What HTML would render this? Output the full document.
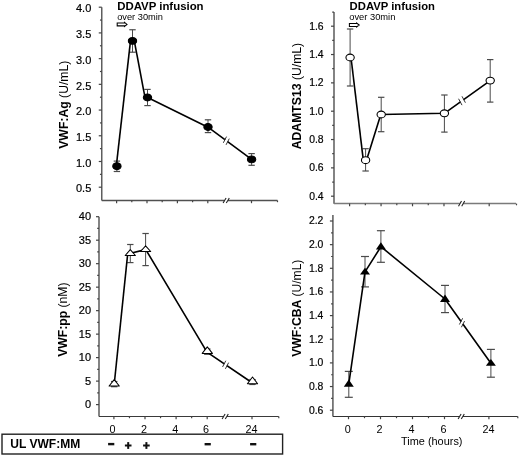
<!DOCTYPE html>
<html><head><meta charset="utf-8"><style>
html,body{margin:0;padding:0;background:#fff;}
svg{display:block;font-family:"Liberation Sans", sans-serif;will-change:transform;}
</style></head><body>
<svg width="520" height="456" viewBox="0 0 520 456">
<rect width="520" height="456" fill="#fff"/>
<line x1="101.75" y1="7.20" x2="101.75" y2="200.50" stroke="#5e5e5e" stroke-width="1.5" />
<line x1="98.75" y1="7.20" x2="101.75" y2="7.20" stroke="#444" stroke-width="1.2" />
<line x1="98.75" y1="32.91" x2="101.75" y2="32.91" stroke="#444" stroke-width="1.2" />
<line x1="98.75" y1="58.63" x2="101.75" y2="58.63" stroke="#444" stroke-width="1.2" />
<line x1="98.75" y1="84.34" x2="101.75" y2="84.34" stroke="#444" stroke-width="1.2" />
<line x1="98.75" y1="110.06" x2="101.75" y2="110.06" stroke="#444" stroke-width="1.2" />
<line x1="98.75" y1="135.77" x2="101.75" y2="135.77" stroke="#444" stroke-width="1.2" />
<line x1="98.75" y1="161.49" x2="101.75" y2="161.49" stroke="#444" stroke-width="1.2" />
<line x1="98.75" y1="187.20" x2="101.75" y2="187.20" stroke="#444" stroke-width="1.2" />
<line x1="99.95" y1="20.06" x2="101.75" y2="20.06" stroke="#444" stroke-width="1.2" />
<line x1="99.95" y1="45.77" x2="101.75" y2="45.77" stroke="#444" stroke-width="1.2" />
<line x1="99.95" y1="71.49" x2="101.75" y2="71.49" stroke="#444" stroke-width="1.2" />
<line x1="99.95" y1="97.20" x2="101.75" y2="97.20" stroke="#444" stroke-width="1.2" />
<line x1="99.95" y1="122.92" x2="101.75" y2="122.92" stroke="#444" stroke-width="1.2" />
<line x1="99.95" y1="148.63" x2="101.75" y2="148.63" stroke="#444" stroke-width="1.2" />
<line x1="99.95" y1="174.35" x2="101.75" y2="174.35" stroke="#444" stroke-width="1.2" />
<text x="91.30" y="12.40" font-size="11" font-weight="normal" text-anchor="end" stroke="#000" stroke-width="0.2">4.0</text>
<text x="91.30" y="38.12" font-size="11" font-weight="normal" text-anchor="end" stroke="#000" stroke-width="0.2">3.5</text>
<text x="91.30" y="63.83" font-size="11" font-weight="normal" text-anchor="end" stroke="#000" stroke-width="0.2">3.0</text>
<text x="91.30" y="89.55" font-size="11" font-weight="normal" text-anchor="end" stroke="#000" stroke-width="0.2">2.5</text>
<text x="91.30" y="115.26" font-size="11" font-weight="normal" text-anchor="end" stroke="#000" stroke-width="0.2">2.0</text>
<text x="91.30" y="140.97" font-size="11" font-weight="normal" text-anchor="end" stroke="#000" stroke-width="0.2">1.5</text>
<text x="91.30" y="166.69" font-size="11" font-weight="normal" text-anchor="end" stroke="#000" stroke-width="0.2">1.0</text>
<text x="91.30" y="192.40" font-size="11" font-weight="normal" text-anchor="end" stroke="#000" stroke-width="0.2">0.5</text>
<line x1="101.75" y1="200.50" x2="224.40" y2="200.50" stroke="#505050" stroke-width="1.3" />
<line x1="228.00" y1="200.50" x2="277.50" y2="200.50" stroke="#505050" stroke-width="1.3" />
<line x1="223.10" y1="203.10" x2="226.10" y2="197.90" stroke="#222" stroke-width="1.1" />
<line x1="226.30" y1="203.10" x2="229.30" y2="197.90" stroke="#222" stroke-width="1.1" />
<line x1="116.60" y1="200.50" x2="116.60" y2="203.20" stroke="#444" stroke-width="1.2" />
<line x1="147.00" y1="200.50" x2="147.00" y2="203.20" stroke="#444" stroke-width="1.2" />
<line x1="177.40" y1="200.50" x2="177.40" y2="203.20" stroke="#444" stroke-width="1.2" />
<line x1="207.80" y1="200.50" x2="207.80" y2="203.20" stroke="#444" stroke-width="1.2" />
<line x1="251.50" y1="200.50" x2="251.50" y2="203.20" stroke="#444" stroke-width="1.2" />
<line x1="131.80" y1="200.50" x2="131.80" y2="202.20" stroke="#444" stroke-width="1.2" />
<line x1="162.20" y1="200.50" x2="162.20" y2="202.20" stroke="#444" stroke-width="1.2" />
<line x1="192.60" y1="200.50" x2="192.60" y2="202.20" stroke="#444" stroke-width="1.2" />
<line x1="277.50" y1="200.50" x2="277.50" y2="202.20" stroke="#444" stroke-width="1.2" />
<line x1="116.90" y1="161.10" x2="116.90" y2="171.50" stroke="#4a4a4a" stroke-width="1.0" />
<line x1="113.70" y1="161.10" x2="120.10" y2="161.10" stroke="#4a4a4a" stroke-width="1.2" />
<line x1="113.70" y1="171.50" x2="120.10" y2="171.50" stroke="#4a4a4a" stroke-width="1.2" />
<line x1="132.50" y1="29.75" x2="132.50" y2="52.20" stroke="#4a4a4a" stroke-width="1.0" />
<line x1="129.30" y1="29.75" x2="135.70" y2="29.75" stroke="#4a4a4a" stroke-width="1.2" />
<line x1="129.30" y1="52.20" x2="135.70" y2="52.20" stroke="#4a4a4a" stroke-width="1.2" />
<line x1="147.50" y1="89.40" x2="147.50" y2="105.60" stroke="#4a4a4a" stroke-width="1.0" />
<line x1="144.30" y1="89.40" x2="150.70" y2="89.40" stroke="#4a4a4a" stroke-width="1.2" />
<line x1="144.30" y1="105.60" x2="150.70" y2="105.60" stroke="#4a4a4a" stroke-width="1.2" />
<line x1="208.00" y1="119.80" x2="208.00" y2="132.60" stroke="#4a4a4a" stroke-width="1.0" />
<line x1="204.80" y1="119.80" x2="211.20" y2="119.80" stroke="#4a4a4a" stroke-width="1.2" />
<line x1="204.80" y1="132.60" x2="211.20" y2="132.60" stroke="#4a4a4a" stroke-width="1.2" />
<line x1="251.60" y1="153.60" x2="251.60" y2="165.30" stroke="#4a4a4a" stroke-width="1.0" />
<line x1="248.40" y1="153.60" x2="254.80" y2="153.60" stroke="#4a4a4a" stroke-width="1.2" />
<line x1="248.40" y1="165.30" x2="254.80" y2="165.30" stroke="#4a4a4a" stroke-width="1.2" />
<polyline points="116.30,166.20 130.50,40.90" fill="none" stroke="#000" stroke-width="1.6" stroke-linejoin="round"/>
<polyline points="134.30,40.90 145.00,97.40" fill="none" stroke="#000" stroke-width="1.6" stroke-linejoin="round"/>
<polyline points="146.60,97.00 208.00,127.20 251.60,159.40" fill="none" stroke="#000" stroke-width="1.6" stroke-linejoin="round"/>
<line x1="225.21" y1="139.91" x2="227.39" y2="141.52" stroke="#fff" stroke-width="3.2" />
<line x1="223.33" y1="142.81" x2="226.53" y2="136.61" stroke="#333" stroke-width="1.0" />
<line x1="226.07" y1="144.83" x2="229.27" y2="138.63" stroke="#333" stroke-width="1.0" />
<ellipse cx="116.90" cy="166.20" rx="4.15" ry="3.4" fill="#000" stroke="#000" stroke-width="1.1"/>
<ellipse cx="132.50" cy="40.90" rx="4.15" ry="3.4" fill="#000" stroke="#000" stroke-width="1.1"/>
<ellipse cx="147.50" cy="97.50" rx="4.15" ry="3.4" fill="#000" stroke="#000" stroke-width="1.1"/>
<ellipse cx="208.00" cy="127.00" rx="4.15" ry="3.4" fill="#000" stroke="#000" stroke-width="1.1"/>
<ellipse cx="251.60" cy="159.40" rx="4.15" ry="3.4" fill="#000" stroke="#000" stroke-width="1.1"/>
<text x="117.20" y="9.90" font-size="11" font-weight="bold" text-anchor="start" textLength="86.4" lengthAdjust="spacingAndGlyphs">DDAVP infusion</text>
<text x="117.20" y="19.60" font-size="9" font-weight="normal" text-anchor="start" textLength="45.8" lengthAdjust="spacingAndGlyphs">over 30min</text>
<path d="M117.20,22.95 H124.50 V22.40 L127.00,24.40 L124.50,26.40 V25.85 H117.20 Z" fill="#fff" stroke="#000" stroke-width="1.05" stroke-linejoin="miter"/>
<text transform="translate(67.50,104.70) rotate(-90)" x="0" y="0" font-size="12" text-anchor="middle" textLength="88.2" lengthAdjust="spacingAndGlyphs"><tspan font-weight="bold">VWF:Ag</tspan><tspan font-weight="normal"> (U/mL)</tspan></text>
<line x1="99.00" y1="216.70" x2="99.00" y2="416.50" stroke="#6e6e6e" stroke-width="1.7" />
<line x1="96.00" y1="216.70" x2="99.00" y2="216.70" stroke="#444" stroke-width="1.2" />
<line x1="96.00" y1="240.19" x2="99.00" y2="240.19" stroke="#444" stroke-width="1.2" />
<line x1="96.00" y1="263.67" x2="99.00" y2="263.67" stroke="#444" stroke-width="1.2" />
<line x1="96.00" y1="287.16" x2="99.00" y2="287.16" stroke="#444" stroke-width="1.2" />
<line x1="96.00" y1="310.65" x2="99.00" y2="310.65" stroke="#444" stroke-width="1.2" />
<line x1="96.00" y1="334.14" x2="99.00" y2="334.14" stroke="#444" stroke-width="1.2" />
<line x1="96.00" y1="357.62" x2="99.00" y2="357.62" stroke="#444" stroke-width="1.2" />
<line x1="96.00" y1="381.11" x2="99.00" y2="381.11" stroke="#444" stroke-width="1.2" />
<line x1="96.00" y1="404.60" x2="99.00" y2="404.60" stroke="#444" stroke-width="1.2" />
<line x1="97.20" y1="228.44" x2="99.00" y2="228.44" stroke="#444" stroke-width="1.2" />
<line x1="97.20" y1="251.93" x2="99.00" y2="251.93" stroke="#444" stroke-width="1.2" />
<line x1="97.20" y1="275.42" x2="99.00" y2="275.42" stroke="#444" stroke-width="1.2" />
<line x1="97.20" y1="298.91" x2="99.00" y2="298.91" stroke="#444" stroke-width="1.2" />
<line x1="97.20" y1="322.39" x2="99.00" y2="322.39" stroke="#444" stroke-width="1.2" />
<line x1="97.20" y1="345.88" x2="99.00" y2="345.88" stroke="#444" stroke-width="1.2" />
<line x1="97.20" y1="369.37" x2="99.00" y2="369.37" stroke="#444" stroke-width="1.2" />
<line x1="97.20" y1="392.86" x2="99.00" y2="392.86" stroke="#444" stroke-width="1.2" />
<text x="91.10" y="220.40" font-size="11" font-weight="normal" text-anchor="end" stroke="#000" stroke-width="0.2">40</text>
<text x="91.10" y="243.89" font-size="11" font-weight="normal" text-anchor="end" stroke="#000" stroke-width="0.2">35</text>
<text x="91.10" y="267.37" font-size="11" font-weight="normal" text-anchor="end" stroke="#000" stroke-width="0.2">30</text>
<text x="91.10" y="290.86" font-size="11" font-weight="normal" text-anchor="end" stroke="#000" stroke-width="0.2">25</text>
<text x="91.10" y="314.35" font-size="11" font-weight="normal" text-anchor="end" stroke="#000" stroke-width="0.2">20</text>
<text x="91.10" y="337.84" font-size="11" font-weight="normal" text-anchor="end" stroke="#000" stroke-width="0.2">15</text>
<text x="91.10" y="361.32" font-size="11" font-weight="normal" text-anchor="end" stroke="#000" stroke-width="0.2">10</text>
<text x="91.10" y="384.81" font-size="11" font-weight="normal" text-anchor="end" stroke="#000" stroke-width="0.2">5</text>
<text x="91.10" y="408.30" font-size="11" font-weight="normal" text-anchor="end" stroke="#000" stroke-width="0.2">0</text>
<line x1="99.00" y1="416.50" x2="223.40" y2="416.50" stroke="#3a3a3a" stroke-width="1.2" />
<line x1="227.00" y1="416.50" x2="278.80" y2="416.50" stroke="#3a3a3a" stroke-width="1.2" />
<line x1="222.10" y1="419.10" x2="225.10" y2="413.90" stroke="#222" stroke-width="1.1" />
<line x1="225.30" y1="419.10" x2="228.30" y2="413.90" stroke="#222" stroke-width="1.1" />
<line x1="113.90" y1="416.50" x2="113.90" y2="419.20" stroke="#444" stroke-width="1.2" />
<line x1="145.00" y1="416.50" x2="145.00" y2="419.20" stroke="#444" stroke-width="1.2" />
<line x1="176.10" y1="416.50" x2="176.10" y2="419.20" stroke="#444" stroke-width="1.2" />
<line x1="207.20" y1="416.50" x2="207.20" y2="419.20" stroke="#444" stroke-width="1.2" />
<line x1="252.00" y1="416.50" x2="252.00" y2="419.20" stroke="#444" stroke-width="1.2" />
<line x1="129.45" y1="416.50" x2="129.45" y2="418.20" stroke="#444" stroke-width="1.2" />
<line x1="160.55" y1="416.50" x2="160.55" y2="418.20" stroke="#444" stroke-width="1.2" />
<line x1="191.65" y1="416.50" x2="191.65" y2="418.20" stroke="#444" stroke-width="1.2" />
<line x1="278.80" y1="416.50" x2="278.80" y2="418.20" stroke="#444" stroke-width="1.2" />
<text x="112.50" y="433.00" font-size="10.8" font-weight="normal" text-anchor="middle" >0</text>
<text x="143.90" y="433.00" font-size="10.8" font-weight="normal" text-anchor="middle" >2</text>
<text x="175.20" y="433.00" font-size="10.8" font-weight="normal" text-anchor="middle" >4</text>
<text x="205.90" y="433.00" font-size="10.8" font-weight="normal" text-anchor="middle" >6</text>
<text x="251.60" y="433.00" font-size="10.8" font-weight="normal" text-anchor="middle" >24</text>
<line x1="114.20" y1="381.50" x2="114.20" y2="386.70" stroke="#4a4a4a" stroke-width="1.0" />
<line x1="111.00" y1="381.50" x2="117.40" y2="381.50" stroke="#4a4a4a" stroke-width="1.2" />
<line x1="111.00" y1="386.70" x2="117.40" y2="386.70" stroke="#4a4a4a" stroke-width="1.2" />
<line x1="130.30" y1="244.50" x2="130.30" y2="262.60" stroke="#4a4a4a" stroke-width="1.0" />
<line x1="127.10" y1="244.50" x2="133.50" y2="244.50" stroke="#4a4a4a" stroke-width="1.2" />
<line x1="127.10" y1="262.60" x2="133.50" y2="262.60" stroke="#4a4a4a" stroke-width="1.2" />
<line x1="145.60" y1="233.50" x2="145.60" y2="265.60" stroke="#4a4a4a" stroke-width="1.0" />
<line x1="142.40" y1="233.50" x2="148.80" y2="233.50" stroke="#4a4a4a" stroke-width="1.2" />
<line x1="142.40" y1="265.60" x2="148.80" y2="265.60" stroke="#4a4a4a" stroke-width="1.2" />
<line x1="207.30" y1="349.00" x2="207.30" y2="354.30" stroke="#4a4a4a" stroke-width="1.0" />
<line x1="204.10" y1="349.00" x2="210.50" y2="349.00" stroke="#4a4a4a" stroke-width="1.2" />
<line x1="204.10" y1="354.30" x2="210.50" y2="354.30" stroke="#4a4a4a" stroke-width="1.2" />
<line x1="252.50" y1="379.50" x2="252.50" y2="384.50" stroke="#4a4a4a" stroke-width="1.0" />
<line x1="249.30" y1="379.50" x2="255.70" y2="379.50" stroke="#4a4a4a" stroke-width="1.2" />
<line x1="249.30" y1="384.50" x2="255.70" y2="384.50" stroke="#4a4a4a" stroke-width="1.2" />
<polyline points="114.30,383.50 127.80,252.80" fill="none" stroke="#000" stroke-width="1.6" stroke-linejoin="round"/>
<polyline points="130.50,253.20 145.50,249.60" fill="none" stroke="#000" stroke-width="1.6" stroke-linejoin="round"/>
<polyline points="145.80,249.60 207.00,352.20 252.50,383.00" fill="none" stroke="#000" stroke-width="1.6" stroke-linejoin="round"/>
<line x1="224.47" y1="364.03" x2="226.73" y2="365.55" stroke="#fff" stroke-width="3.2" />
<line x1="222.59" y1="366.94" x2="225.79" y2="360.74" stroke="#333" stroke-width="1.0" />
<line x1="225.41" y1="368.84" x2="228.61" y2="362.64" stroke="#333" stroke-width="1.0" />
<polygon points="114.20,379.70 109.10,386.00 119.30,386.00" fill="#fff" stroke="#000" stroke-width="1.05" stroke-linejoin="round"/>
<polygon points="130.30,249.70 125.20,255.50 135.40,255.50" fill="#fff" stroke="#000" stroke-width="1.05" stroke-linejoin="round"/>
<polygon points="145.60,245.90 140.50,251.50 150.70,251.50" fill="#fff" stroke="#000" stroke-width="1.05" stroke-linejoin="round"/>
<polygon points="207.30,346.90 202.20,353.40 212.40,353.40" fill="#fff" stroke="#000" stroke-width="1.05" stroke-linejoin="round"/>
<polygon points="252.50,377.00 247.40,383.70 257.60,383.70" fill="#fff" stroke="#000" stroke-width="1.05" stroke-linejoin="round"/>
<text transform="translate(66.80,319.65) rotate(-90)" x="0" y="0" font-size="12" text-anchor="middle" textLength="74.3" lengthAdjust="spacingAndGlyphs"><tspan font-weight="bold">VWF:pp</tspan><tspan font-weight="normal"> (nM)</tspan></text>
<line x1="334.00" y1="12.03" x2="334.00" y2="203.70" stroke="#6e6e6e" stroke-width="1.7" />
<line x1="331.00" y1="26.20" x2="334.00" y2="26.20" stroke="#444" stroke-width="1.2" />
<line x1="331.00" y1="54.53" x2="334.00" y2="54.53" stroke="#444" stroke-width="1.2" />
<line x1="331.00" y1="82.87" x2="334.00" y2="82.87" stroke="#444" stroke-width="1.2" />
<line x1="331.00" y1="111.20" x2="334.00" y2="111.20" stroke="#444" stroke-width="1.2" />
<line x1="331.00" y1="139.54" x2="334.00" y2="139.54" stroke="#444" stroke-width="1.2" />
<line x1="331.00" y1="167.87" x2="334.00" y2="167.87" stroke="#444" stroke-width="1.2" />
<line x1="331.00" y1="196.20" x2="334.00" y2="196.20" stroke="#444" stroke-width="1.2" />
<line x1="332.20" y1="12.03" x2="334.00" y2="12.03" stroke="#444" stroke-width="1.2" />
<line x1="332.20" y1="40.37" x2="334.00" y2="40.37" stroke="#444" stroke-width="1.2" />
<line x1="332.20" y1="68.70" x2="334.00" y2="68.70" stroke="#444" stroke-width="1.2" />
<line x1="332.20" y1="97.03" x2="334.00" y2="97.03" stroke="#444" stroke-width="1.2" />
<line x1="332.20" y1="125.37" x2="334.00" y2="125.37" stroke="#444" stroke-width="1.2" />
<line x1="332.20" y1="153.70" x2="334.00" y2="153.70" stroke="#444" stroke-width="1.2" />
<line x1="332.20" y1="182.04" x2="334.00" y2="182.04" stroke="#444" stroke-width="1.2" />
<text x="323.60" y="29.50" font-size="10.4" font-weight="normal" text-anchor="end" stroke="#000" stroke-width="0.2">1.6</text>
<text x="323.60" y="57.83" font-size="10.4" font-weight="normal" text-anchor="end" stroke="#000" stroke-width="0.2">1.4</text>
<text x="323.60" y="86.17" font-size="10.4" font-weight="normal" text-anchor="end" stroke="#000" stroke-width="0.2">1.2</text>
<text x="323.60" y="114.50" font-size="10.4" font-weight="normal" text-anchor="end" stroke="#000" stroke-width="0.2">1.0</text>
<text x="323.60" y="142.84" font-size="10.4" font-weight="normal" text-anchor="end" stroke="#000" stroke-width="0.2">0.8</text>
<text x="323.60" y="171.17" font-size="10.4" font-weight="normal" text-anchor="end" stroke="#000" stroke-width="0.2">0.6</text>
<text x="323.60" y="199.50" font-size="10.4" font-weight="normal" text-anchor="end" stroke="#000" stroke-width="0.2">0.4</text>
<line x1="334.00" y1="203.60" x2="459.80" y2="203.60" stroke="#7a7a7a" stroke-width="1.5" />
<line x1="463.40" y1="203.60" x2="516.00" y2="203.60" stroke="#7a7a7a" stroke-width="1.5" />
<line x1="458.50" y1="206.20" x2="461.50" y2="201.00" stroke="#222" stroke-width="1.1" />
<line x1="461.70" y1="206.20" x2="464.70" y2="201.00" stroke="#222" stroke-width="1.1" />
<line x1="349.60" y1="203.60" x2="349.60" y2="206.30" stroke="#444" stroke-width="1.2" />
<line x1="381.06" y1="203.60" x2="381.06" y2="206.30" stroke="#444" stroke-width="1.2" />
<line x1="412.52" y1="203.60" x2="412.52" y2="206.30" stroke="#444" stroke-width="1.2" />
<line x1="443.98" y1="203.60" x2="443.98" y2="206.30" stroke="#444" stroke-width="1.2" />
<line x1="489.20" y1="203.60" x2="489.20" y2="206.30" stroke="#444" stroke-width="1.2" />
<line x1="365.33" y1="203.60" x2="365.33" y2="205.30" stroke="#444" stroke-width="1.2" />
<line x1="396.79" y1="203.60" x2="396.79" y2="205.30" stroke="#444" stroke-width="1.2" />
<line x1="428.25" y1="203.60" x2="428.25" y2="205.30" stroke="#444" stroke-width="1.2" />
<line x1="516.50" y1="203.60" x2="516.50" y2="205.30" stroke="#444" stroke-width="1.2" />
<line x1="350.10" y1="29.00" x2="350.10" y2="86.00" stroke="#4a4a4a" stroke-width="1.0" />
<line x1="346.90" y1="29.00" x2="353.30" y2="29.00" stroke="#4a4a4a" stroke-width="1.2" />
<line x1="346.90" y1="86.00" x2="353.30" y2="86.00" stroke="#4a4a4a" stroke-width="1.2" />
<line x1="365.60" y1="148.70" x2="365.60" y2="171.00" stroke="#4a4a4a" stroke-width="1.0" />
<line x1="362.40" y1="148.70" x2="368.80" y2="148.70" stroke="#4a4a4a" stroke-width="1.2" />
<line x1="362.40" y1="171.00" x2="368.80" y2="171.00" stroke="#4a4a4a" stroke-width="1.2" />
<line x1="381.20" y1="97.30" x2="381.20" y2="131.70" stroke="#4a4a4a" stroke-width="1.0" />
<line x1="378.00" y1="97.30" x2="384.40" y2="97.30" stroke="#4a4a4a" stroke-width="1.2" />
<line x1="378.00" y1="131.70" x2="384.40" y2="131.70" stroke="#4a4a4a" stroke-width="1.2" />
<line x1="444.40" y1="95.00" x2="444.40" y2="132.10" stroke="#4a4a4a" stroke-width="1.0" />
<line x1="441.20" y1="95.00" x2="447.60" y2="95.00" stroke="#4a4a4a" stroke-width="1.2" />
<line x1="441.20" y1="132.10" x2="447.60" y2="132.10" stroke="#4a4a4a" stroke-width="1.2" />
<line x1="490.20" y1="59.60" x2="490.20" y2="102.10" stroke="#4a4a4a" stroke-width="1.0" />
<line x1="487.00" y1="59.60" x2="493.40" y2="59.60" stroke="#4a4a4a" stroke-width="1.2" />
<line x1="487.00" y1="102.10" x2="493.40" y2="102.10" stroke="#4a4a4a" stroke-width="1.2" />
<polyline points="351.00,57.50 363.30,160.20" fill="none" stroke="#000" stroke-width="1.6" stroke-linejoin="round"/>
<polyline points="366.50,160.20 380.80,114.50 381.20,114.50 444.40,113.30 490.20,80.60" fill="none" stroke="#000" stroke-width="1.6" stroke-linejoin="round"/>
<line x1="460.63" y1="101.71" x2="463.37" y2="99.76" stroke="#fff" stroke-width="3.2" />
<line x1="461.99" y1="105.15" x2="458.59" y2="98.75" stroke="#333" stroke-width="1.0" />
<line x1="465.41" y1="102.71" x2="462.01" y2="96.31" stroke="#333" stroke-width="1.0" />
<ellipse cx="350.10" cy="57.50" rx="4.15" ry="3.4" fill="#fff" stroke="#000" stroke-width="1.1"/>
<ellipse cx="365.60" cy="160.20" rx="4.15" ry="3.4" fill="#fff" stroke="#000" stroke-width="1.1"/>
<ellipse cx="381.20" cy="114.50" rx="4.15" ry="3.4" fill="#fff" stroke="#000" stroke-width="1.1"/>
<ellipse cx="444.40" cy="113.30" rx="4.15" ry="3.4" fill="#fff" stroke="#000" stroke-width="1.1"/>
<ellipse cx="490.20" cy="80.60" rx="4.15" ry="3.4" fill="#fff" stroke="#000" stroke-width="1.1"/>
<text x="349.60" y="10.20" font-size="11" font-weight="bold" text-anchor="start" textLength="85.4" lengthAdjust="spacingAndGlyphs">DDAVP infusion</text>
<text x="349.20" y="19.90" font-size="9" font-weight="normal" text-anchor="start" textLength="46.2" lengthAdjust="spacingAndGlyphs">over 30min</text>
<path d="M349.40,23.55 H356.70 V23.00 L359.20,25.00 L356.70,27.00 V26.45 H349.40 Z" fill="#fff" stroke="#000" stroke-width="1.05" stroke-linejoin="miter"/>
<text transform="translate(301.00,96.05) rotate(-90)" x="0" y="0" font-size="12" text-anchor="middle" textLength="106.5" lengthAdjust="spacingAndGlyphs"><tspan font-weight="bold">ADAMTS13</tspan><tspan font-weight="normal"> (U/mL)</tspan></text>
<line x1="332.90" y1="214.90" x2="332.90" y2="416.50" stroke="#6e6e6e" stroke-width="1.7" />
<line x1="329.90" y1="221.00" x2="332.90" y2="221.00" stroke="#444" stroke-width="1.2" />
<line x1="329.90" y1="244.65" x2="332.90" y2="244.65" stroke="#444" stroke-width="1.2" />
<line x1="329.90" y1="268.30" x2="332.90" y2="268.30" stroke="#444" stroke-width="1.2" />
<line x1="329.90" y1="291.95" x2="332.90" y2="291.95" stroke="#444" stroke-width="1.2" />
<line x1="329.90" y1="315.60" x2="332.90" y2="315.60" stroke="#444" stroke-width="1.2" />
<line x1="329.90" y1="339.25" x2="332.90" y2="339.25" stroke="#444" stroke-width="1.2" />
<line x1="329.90" y1="362.90" x2="332.90" y2="362.90" stroke="#444" stroke-width="1.2" />
<line x1="329.90" y1="386.55" x2="332.90" y2="386.55" stroke="#444" stroke-width="1.2" />
<line x1="329.90" y1="410.20" x2="332.90" y2="410.20" stroke="#444" stroke-width="1.2" />
<line x1="331.10" y1="232.83" x2="332.90" y2="232.83" stroke="#444" stroke-width="1.2" />
<line x1="331.10" y1="256.48" x2="332.90" y2="256.48" stroke="#444" stroke-width="1.2" />
<line x1="331.10" y1="280.12" x2="332.90" y2="280.12" stroke="#444" stroke-width="1.2" />
<line x1="331.10" y1="303.78" x2="332.90" y2="303.78" stroke="#444" stroke-width="1.2" />
<line x1="331.10" y1="327.43" x2="332.90" y2="327.43" stroke="#444" stroke-width="1.2" />
<line x1="331.10" y1="351.08" x2="332.90" y2="351.08" stroke="#444" stroke-width="1.2" />
<line x1="331.10" y1="374.73" x2="332.90" y2="374.73" stroke="#444" stroke-width="1.2" />
<line x1="331.10" y1="398.38" x2="332.90" y2="398.38" stroke="#444" stroke-width="1.2" />
<text x="323.40" y="224.30" font-size="10.4" font-weight="normal" text-anchor="end" stroke="#000" stroke-width="0.2">2.2</text>
<text x="323.40" y="247.95" font-size="10.4" font-weight="normal" text-anchor="end" stroke="#000" stroke-width="0.2">2.0</text>
<text x="323.40" y="271.60" font-size="10.4" font-weight="normal" text-anchor="end" stroke="#000" stroke-width="0.2">1.8</text>
<text x="323.40" y="295.25" font-size="10.4" font-weight="normal" text-anchor="end" stroke="#000" stroke-width="0.2">1.6</text>
<text x="323.40" y="318.90" font-size="10.4" font-weight="normal" text-anchor="end" stroke="#000" stroke-width="0.2">1.4</text>
<text x="323.40" y="342.55" font-size="10.4" font-weight="normal" text-anchor="end" stroke="#000" stroke-width="0.2">1.2</text>
<text x="323.40" y="366.20" font-size="10.4" font-weight="normal" text-anchor="end" stroke="#000" stroke-width="0.2">1.0</text>
<text x="323.40" y="389.85" font-size="10.4" font-weight="normal" text-anchor="end" stroke="#000" stroke-width="0.2">0.8</text>
<text x="323.40" y="413.50" font-size="10.4" font-weight="normal" text-anchor="end" stroke="#000" stroke-width="0.2">0.6</text>
<line x1="332.90" y1="416.50" x2="459.40" y2="416.50" stroke="#333" stroke-width="1.2" />
<line x1="463.00" y1="416.50" x2="517.80" y2="416.50" stroke="#333" stroke-width="1.2" />
<line x1="458.10" y1="419.10" x2="461.10" y2="413.90" stroke="#222" stroke-width="1.1" />
<line x1="461.30" y1="419.10" x2="464.30" y2="413.90" stroke="#222" stroke-width="1.1" />
<line x1="348.50" y1="416.50" x2="348.50" y2="419.20" stroke="#444" stroke-width="1.2" />
<line x1="380.50" y1="416.50" x2="380.50" y2="419.20" stroke="#444" stroke-width="1.2" />
<line x1="412.50" y1="416.50" x2="412.50" y2="419.20" stroke="#444" stroke-width="1.2" />
<line x1="444.50" y1="416.50" x2="444.50" y2="419.20" stroke="#444" stroke-width="1.2" />
<line x1="488.90" y1="416.50" x2="488.90" y2="419.20" stroke="#444" stroke-width="1.2" />
<line x1="364.50" y1="416.50" x2="364.50" y2="418.20" stroke="#444" stroke-width="1.2" />
<line x1="396.50" y1="416.50" x2="396.50" y2="418.20" stroke="#444" stroke-width="1.2" />
<line x1="428.50" y1="416.50" x2="428.50" y2="418.20" stroke="#444" stroke-width="1.2" />
<line x1="517.80" y1="416.50" x2="517.80" y2="418.20" stroke="#444" stroke-width="1.2" />
<text x="347.80" y="433.00" font-size="10.8" font-weight="normal" text-anchor="middle" >0</text>
<text x="379.40" y="433.00" font-size="10.8" font-weight="normal" text-anchor="middle" >2</text>
<text x="411.50" y="433.00" font-size="10.8" font-weight="normal" text-anchor="middle" >4</text>
<text x="443.60" y="433.00" font-size="10.8" font-weight="normal" text-anchor="middle" >6</text>
<text x="488.40" y="433.00" font-size="10.8" font-weight="normal" text-anchor="middle" >24</text>
<text x="401.00" y="445.00" font-size="10.5" font-weight="normal" text-anchor="start" textLength="61.5" lengthAdjust="spacingAndGlyphs">Time (hours)</text>
<line x1="348.80" y1="371.40" x2="348.80" y2="397.30" stroke="#4a4a4a" stroke-width="1.0" />
<line x1="344.80" y1="371.40" x2="352.80" y2="371.40" stroke="#4a4a4a" stroke-width="1.2" />
<line x1="344.80" y1="397.30" x2="352.80" y2="397.30" stroke="#4a4a4a" stroke-width="1.2" />
<line x1="365.00" y1="256.50" x2="365.00" y2="286.90" stroke="#4a4a4a" stroke-width="1.0" />
<line x1="361.00" y1="256.50" x2="369.00" y2="256.50" stroke="#4a4a4a" stroke-width="1.2" />
<line x1="361.00" y1="286.90" x2="369.00" y2="286.90" stroke="#4a4a4a" stroke-width="1.2" />
<line x1="380.90" y1="230.70" x2="380.90" y2="262.30" stroke="#4a4a4a" stroke-width="1.0" />
<line x1="376.90" y1="230.70" x2="384.90" y2="230.70" stroke="#4a4a4a" stroke-width="1.2" />
<line x1="376.90" y1="262.30" x2="384.90" y2="262.30" stroke="#4a4a4a" stroke-width="1.2" />
<line x1="445.00" y1="285.40" x2="445.00" y2="312.60" stroke="#4a4a4a" stroke-width="1.0" />
<line x1="441.00" y1="285.40" x2="449.00" y2="285.40" stroke="#4a4a4a" stroke-width="1.2" />
<line x1="441.00" y1="312.60" x2="449.00" y2="312.60" stroke="#4a4a4a" stroke-width="1.2" />
<line x1="490.90" y1="349.40" x2="490.90" y2="377.20" stroke="#4a4a4a" stroke-width="1.0" />
<line x1="486.90" y1="349.40" x2="494.90" y2="349.40" stroke="#4a4a4a" stroke-width="1.2" />
<line x1="486.90" y1="377.20" x2="494.90" y2="377.20" stroke="#4a4a4a" stroke-width="1.2" />
<polyline points="348.80,383.95 365.00,271.90 380.90,246.70 445.00,299.00 490.90,363.20" fill="none" stroke="#000" stroke-width="1.6" stroke-linejoin="round"/>
<line x1="461.21" y1="321.67" x2="462.79" y2="323.88" stroke="#fff" stroke-width="3.2" />
<line x1="459.41" y1="324.49" x2="462.61" y2="318.29" stroke="#333" stroke-width="1.0" />
<line x1="461.39" y1="327.26" x2="464.59" y2="321.06" stroke="#333" stroke-width="1.0" />
<polygon points="348.80,379.50 343.80,386.80 353.80,386.80" fill="#000"/>
<polygon points="365.00,267.70 360.00,274.50 370.00,274.50" fill="#000"/>
<polygon points="380.90,242.20 375.90,249.60 385.90,249.60" fill="#000"/>
<polygon points="445.00,294.50 440.00,301.90 450.00,301.90" fill="#000"/>
<polygon points="490.90,359.00 485.90,365.80 495.90,365.80" fill="#000"/>
<text transform="translate(300.50,308.20) rotate(-90)" x="0" y="0" font-size="12" text-anchor="middle" textLength="97.2" lengthAdjust="spacingAndGlyphs"><tspan font-weight="bold">VWF:CBA</tspan><tspan font-weight="normal"> (U/mL)</tspan></text>
<rect x="2" y="434.2" width="280.6" height="19.8" fill="none" stroke="#222" stroke-width="1.4"/>
<text x="10.30" y="447.90" font-size="12" font-weight="bold" text-anchor="start" textLength="70" lengthAdjust="spacingAndGlyphs">UL VWF:MM</text>
<rect x="108.10" y="442.90" width="6.2" height="2.4" fill="#111"/>
<rect x="124.90" y="444.50" width="6.6" height="2.0" fill="#111"/>
<rect x="127.20" y="442.10" width="2.0" height="6.8" fill="#111"/>
<rect x="143.10" y="444.50" width="6.6" height="2.0" fill="#111"/>
<rect x="145.40" y="442.10" width="2.0" height="6.8" fill="#111"/>
<rect x="204.60" y="443.00" width="6.2" height="2.4" fill="#111"/>
<rect x="250.10" y="443.00" width="6.2" height="2.4" fill="#111"/>
</svg>
</body></html>
